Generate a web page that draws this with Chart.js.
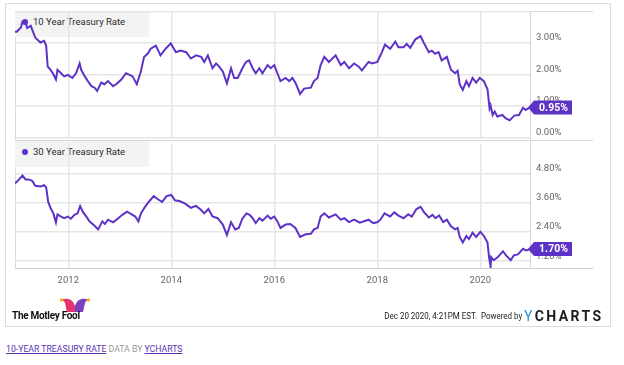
<!DOCTYPE html>
<html><head><meta charset="utf-8">
<script src="https://cdn.jsdelivr.net/npm/chart.js@4/dist/chart.umd.min.js"></script>
<style>
html,body{margin:0;padding:0;background:#fff;width:624px;height:365px;overflow:hidden;font-family:Roboto,"Noto Sans",sans-serif;}
.abs{position:absolute;}
#frame{left:5px;top:3px;width:606px;height:324px;border:1px solid #dcdcdc;box-sizing:border-box;}
.hl{height:1px;background:#d9d9d9;left:15px;width:578px;}
.vl{width:1px;background:#d9d9d9;top:11px;height:258px;}
.legend{left:15px;width:134px;height:26px;background:#f3f3f3;}
.legend .dot{position:absolute;left:7px;top:8px;width:6px;height:6px;border-radius:50%;background:#5d32c6;}
.legend .txt{position:absolute;left:18px;top:4px;font-size:9.5px;line-height:14px;color:#2a2a2a;white-space:nowrap;}
canvas{position:absolute;left:0;}
.foot{white-space:nowrap;}
</style>
</head><body>
<div id="frame" class="abs"></div>
<div class="abs hl" style="top:11px"></div>
<div class="abs hl" style="top:140px"></div>
<div class="abs hl" style="top:268px;background:#cfcfcf"></div>
<div class="abs vl" style="left:15px"></div>
<div class="abs vl" style="left:530px"></div>
<div class="abs legend" style="top:11px"><div class="dot"></div><div class="txt">10 Year Treasury Rate</div></div>
<div class="abs legend" style="top:141px"><div class="dot"></div><div class="txt">30 Year Treasury Rate</div></div>
<canvas id="c1" width="624" height="149" style="top:0;width:624px;height:149px"></canvas>
<canvas id="c2" width="624" height="164" style="top:132px;width:624px;height:164px"></canvas>

<svg class="abs" width="32" height="16" style="left:59px;top:297px" viewBox="0 0 32 16">
  <path d="M8 15 C6 8 7 3 2 3 C8 0 14 2 16 9 L16 15 Z" fill="#e4346f"/>
  <path d="M16 15 L16 9 C18 2 24 0 30 3 C25 3 26 8 24 15 Z" fill="#7c3fc1"/>
  <circle cx="2.5" cy="3" r="1.7" fill="#f4b41a"/>
  <circle cx="29.5" cy="3" r="1.7" fill="#f4b41a"/>
</svg>
<div class="abs foot" style="left:12px;top:309px;font-size:10px;line-height:14px;font-weight:700;color:#111;letter-spacing:-0.3px">The Motley Fool</div>
<div class="abs foot" style="right:102px;top:309px;font-size:9.5px;line-height:14px;color:#222;transform:scaleX(0.84);transform-origin:right center">Dec 20 2020, 4:21PM EST.&nbsp; Powered by</div>
<div class="abs foot" style="left:524px;top:306px;font-size:14px;line-height:20px;font-weight:700;color:#1b1b1b;letter-spacing:2.4px"><span style="color:#2b8fd6;font-weight:400">Y</span>CHARTS</div>
<div class="abs foot" style="left:6px;top:343px;font-size:8.7px;line-height:13px;color:#999">
  <span style="color:#5a2fb5;text-decoration:underline">10-YEAR TREASURY RATE</span> DATA BY <span style="color:#5a2fb5;text-decoration:underline">YCHARTS</span>
</div>

<script>
// ---- data (decimal years) ----
const t10 = [2010.965,2011.00,2011.08,2011.11,2011.17,2011.20,2011.27,2011.36,2011.46,2011.53,2011.57,2011.60,2011.63,2011.70,2011.76,2011.79,2011.86,2011.92,2011.99,
 2012.08,2012.15,2012.22,2012.25,2012.32,2012.38,2012.45,2012.51,2012.56,2012.64,2012.70,2012.77,2012.87,2012.93,
 2013.03,2013.12,2013.19,2013.25,2013.33,2013.41,2013.47,2013.54,2013.60,2013.70,2013.79,2013.89,2013.99,
 2014.09,2014.18,2014.29,2014.38,2014.48,2014.58,2014.64,2014.71,2014.80,2014.87,2014.93,
 2015.00,2015.08,2015.16,2015.22,2015.29,2015.38,2015.45,2015.51,2015.58,2015.64,2015.71,2015.77,2015.87,2015.93,
 2016.00,2016.06,2016.12,2016.22,2016.29,2016.35,2016.41,2016.50,2016.58,2016.71,2016.77,2016.84,2016.90,2016.97,
 2017.06,2017.19,2017.29,2017.36,2017.45,2017.55,2017.64,2017.70,2017.83,2017.90,
 2018.00,2018.09,2018.15,2018.25,2018.35,2018.41,2018.51,2018.57,2018.64,2018.74,2018.84,2018.90,
 2019.00,2019.06,2019.12,2019.19,2019.25,2019.35,2019.43,2019.51,2019.56,2019.60,2019.66,2019.73,2019.78,2019.85,2019.92,2019.99,
 2020.07,2020.14,2020.18,2020.20,2020.24,2020.28,2020.33,2020.43,2020.49,2020.57,2020.66,2020.75,2020.83,2020.88,2020.965];
const rate10 = [3.36,3.36,3.50,3.69,3.69,3.48,3.55,3.17,3.02,3.07,2.92,2.25,2.20,2.04,1.84,2.15,2.04,1.94,1.99,
 1.89,2.04,2.35,2.15,1.94,1.79,1.63,1.58,1.48,1.74,1.69,1.79,1.63,1.69,
 1.84,2.04,1.99,1.94,1.69,2.10,2.56,2.66,2.82,2.92,2.61,2.82,2.99,
 2.71,2.76,2.71,2.51,2.61,2.56,2.40,2.61,2.20,2.35,2.25,
 2.10,1.72,2.20,1.89,1.89,2.20,2.40,2.45,2.20,2.04,2.20,2.04,2.30,2.20,
 2.30,2.04,1.79,1.89,1.79,1.89,1.74,1.38,1.55,1.58,1.79,1.89,2.30,2.56,
 2.40,2.61,2.30,2.40,2.20,2.35,2.25,2.13,2.40,2.35,
 2.40,2.71,2.95,2.82,3.05,2.87,2.87,2.97,2.85,3.12,3.22,3.02,
 2.71,2.76,2.66,2.71,2.45,2.56,2.15,2.04,2.12,1.69,1.51,1.79,1.63,1.89,1.74,1.89,
 1.79,1.53,0.92,1.02,0.71,0.82,0.66,0.71,0.61,0.54,0.69,0.71,0.94,0.87,0.95];

const t30 = [2010.965,2011.00,2011.11,2011.17,2011.23,2011.30,2011.36,2011.46,2011.53,2011.57,2011.61,2011.66,2011.71,2011.76,2011.79,2011.86,2011.92,2011.99,
 2012.05,2012.12,2012.18,2012.23,2012.28,2012.35,2012.41,2012.50,2012.58,2012.66,2012.71,2012.77,2012.87,2012.97,
 2013.05,2013.14,2013.23,2013.30,2013.36,2013.41,2013.49,2013.56,2013.66,2013.74,2013.82,2013.91,
 2014.00,2014.07,2014.17,2014.27,2014.38,2014.48,2014.58,2014.64,2014.72,2014.80,2014.90,
 2015.00,2015.08,2015.16,2015.24,2015.31,2015.38,2015.46,2015.52,2015.58,2015.64,2015.71,2015.77,2015.87,2015.93,
 2016.00,2016.06,2016.12,2016.22,2016.31,2016.41,2016.50,2016.61,2016.71,2016.77,2016.84,2016.90,2016.97,
 2017.06,2017.19,2017.29,2017.36,2017.45,2017.55,2017.66,2017.83,2017.92,
 2018.00,2018.06,2018.14,2018.25,2018.33,2018.41,2018.51,2018.60,2018.67,2018.76,2018.84,2018.91,
 2019.00,2019.07,2019.13,2019.20,2019.28,2019.35,2019.43,2019.51,2019.56,2019.60,2019.66,2019.73,2019.78,2019.85,2019.92,
 2020.00,2020.07,2020.14,2020.17,2020.20,2020.21,2020.26,2020.33,2020.37,2020.44,2020.50,2020.59,2020.65,2020.73,2020.83,2020.89,2020.965];
const rate30 = [4.41,4.47,4.73,4.57,4.57,4.51,4.31,4.28,4.33,4.24,3.64,3.37,3.17,2.80,3.13,3.04,2.97,3.04,
 2.95,3.11,3.17,3.47,3.24,3.04,2.84,2.68,2.51,2.84,2.73,2.91,2.80,2.97,
 3.11,3.24,3.13,3.04,2.84,3.17,3.44,3.64,3.88,3.75,3.64,3.88,
 3.93,3.71,3.67,3.57,3.40,3.48,3.31,3.17,3.35,3.04,2.97,
 2.71,2.28,2.81,2.51,2.57,2.95,3.17,3.11,2.97,2.77,2.97,2.87,3.08,2.95,
 3.04,2.84,2.57,2.71,2.73,2.57,2.20,2.31,2.33,2.51,2.57,3.04,3.17,
 3.00,3.13,2.91,2.97,2.81,2.91,2.79,2.91,2.77,
 2.80,2.91,3.17,3.04,3.21,3.08,2.97,3.13,3.04,3.35,3.44,3.21,
 3.00,3.11,2.97,3.08,2.81,2.91,2.64,2.51,2.57,2.20,1.97,2.24,2.11,2.37,2.20,
 2.41,2.24,1.97,1.37,0.97,1.37,1.24,1.35,1.44,1.61,1.44,1.24,1.44,1.48,1.71,1.64,1.70];

const yearTicks = [2012, 2014, 2016, 2018, 2020];
const ticks10 = [0, 1, 2, 3, 4];
const ticks30 = [1.2, 2.4, 3.6, 4.8];

const PURPLE = '#5d32c6';
const GRID = '#e6e6e6';
const TICKFONT = {family: 'Roboto', size: 9.5};

const endTag = {
  id: 'endTag',
  afterDraw(chart) {
    const meta = chart.getDatasetMeta(0);
    const pt = meta.data[meta.data.length - 1];
    const vals = chart.data.datasets[0].data;
    const v = vals[vals.length - 1].y;
    const ctx = chart.ctx;
    const r = chart.chartArea.right;
    const y = pt.y;
    ctx.save();
    ctx.fillStyle = PURPLE;
    ctx.beginPath();
    ctx.moveTo(r - 2, y);
    ctx.lineTo(r + 4, y - 7);
    ctx.lineTo(r + 42, y - 7);
    ctx.lineTo(r + 42, y + 7);
    ctx.lineTo(r + 4, y + 7);
    ctx.closePath();
    ctx.fill();
    ctx.fillStyle = '#fff';
    ctx.font = 'bold 10.5px Roboto';
    ctx.textAlign = 'center';
    ctx.textBaseline = 'middle';
    ctx.fillText(v.toFixed(2) + '%', r + 23.5, y + 0.5);
    ctx.restore();
  }
};

function makeChart(id, xs, ys, yTicks, yMin, yMax, showX, pad, xH, hideTop) {
  return new Chart(document.getElementById(id), {
    type: 'line',
    data: { datasets: [{
      data: xs.map((x, i) => ({x: x, y: ys[i]})),
      borderColor: PURPLE, borderWidth: 2, pointRadius: 0, tension: 0, fill: false
    }]},
    options: {
      responsive: false, animation: false, events: [],
      layout: { padding: pad },
      plugins: { legend: {display: false}, tooltip: {enabled: false} },
      scales: {
        x: {
          type: 'linear', min: 2010.965, max: 2020.965,
          afterBuildTicks: ax => { ax.ticks = yearTicks.map(v => ({value: v})); },
          afterFit: ax => { ax.height = xH; },
          grid: { color: GRID, lineWidth: 1.5, drawTicks: false },
          border: { display: false },
          ticks: { display: showX, autoSkip: false, maxRotation: 0, padding: 7, color: '#666', font: TICKFONT,
                   callback: v => String(v) }
        },
        y: {
          position: 'right', min: yMin, max: yMax,
          afterBuildTicks: ax => { ax.ticks = yTicks.map(v => ({value: v})); },
          afterFit: ax => { ax.width = 94; },
          grid: { color: GRID, lineWidth: 1.5, drawTicks: false },
          border: { display: false },
          ticks: { padding: 6, labelOffset: -5, color: '#666', font: TICKFONT,
                   callback: v => (hideTop && v === yMax) ? '' : v.toFixed(2) + '%' }
        }
      }
    },
    plugins: [endTag]
  });
}

makeChart('c1', t10, rate10, ticks10, 0, 4, false, {left: 15, top: 11, right: 0, bottom: 8}, 0, true);
makeChart('c2', t30, rate30, ticks30, 0.92, 6.04, true, {left: 15, top: 8, right: 0, bottom: 8}, 20, false);
</script>
</body></html>
